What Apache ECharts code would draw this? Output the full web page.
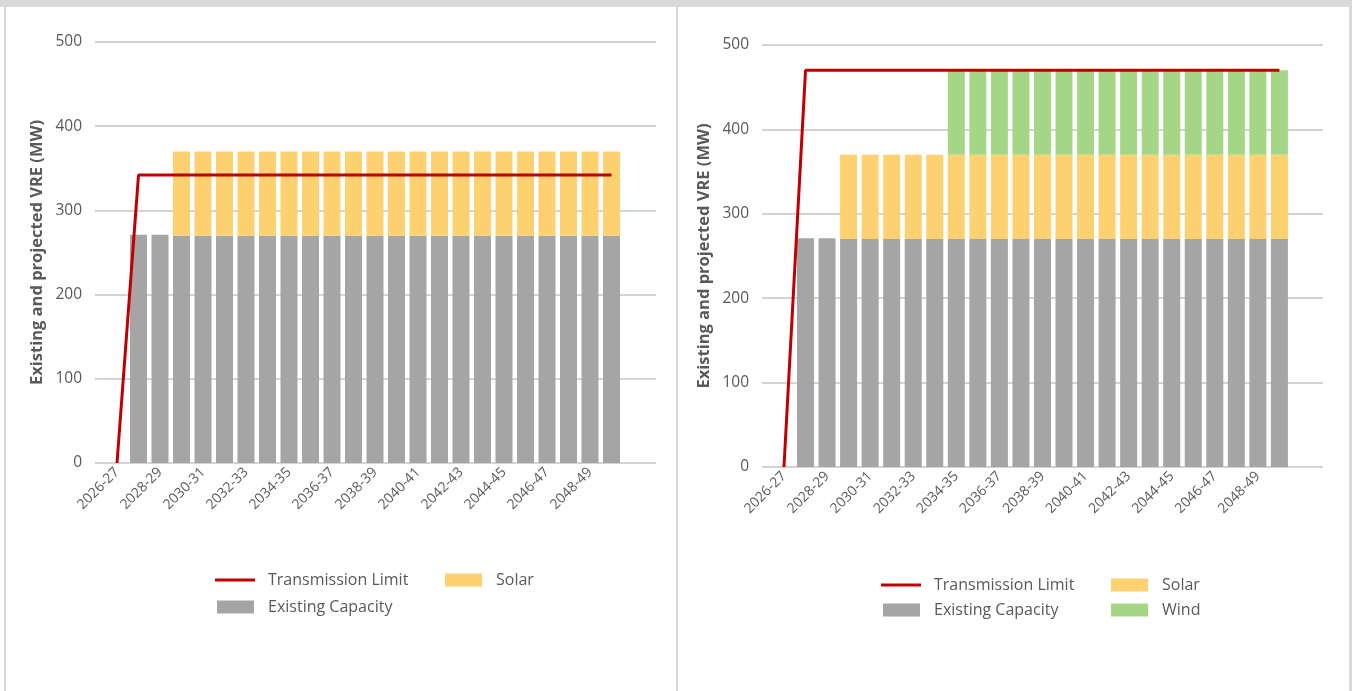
<!DOCTYPE html>
<html>
<head>
<meta charset="utf-8">
<title>Existing and projected VRE</title>
<script src="https://cdn.jsdelivr.net/npm/echarts@6/dist/echarts.min.js"></script>
<style>
  html, body { margin: 0; padding: 0; background: #fff; }
  #chart { width: 1352px; height: 691px; }
</style>
</head>
<body>
<div id="chart"></div>
<script>
// Financial years on the category axis
const years = [
  '2026-27', '2027-28', '2028-29', '2029-30', '2030-31', '2031-32',
  '2032-33', '2033-34', '2034-35', '2035-36', '2036-37', '2037-38',
  '2038-39', '2039-40', '2040-41', '2041-42', '2042-43', '2043-44',
  '2044-45', '2045-46', '2046-47', '2047-48', '2048-49', '2049-50'
];

// Left panel (MW)
const existingLeft = [null, 271, 271, 270, 270, 270, 270, 270, 270, 270, 270, 270,
                      270, 270, 270, 270, 270, 270, 270, 270, 270, 270, 270, 270];
const solarLeft    = [null, null, null, 100, 100, 100, 100, 100, 100, 100, 100, 100,
                      100, 100, 100, 100, 100, 100, 100, 100, 100, 100, 100, 100];
const limitLeft    = [0, 342, 342, 342, 342, 342, 342, 342, 342, 342, 342, 342,
                      342, 342, 342, 342, 342, 342, 342, 342, 342, 342, 342, 342];

// Right panel (MW)
const existingRight = [null, 271, 271, 270, 270, 270, 270, 270, 270, 270, 270, 270,
                       270, 270, 270, 270, 270, 270, 270, 270, 270, 270, 270, 270];
const solarRight    = [null, null, null, 100, 100, 100, 100, 100, 100, 100, 100, 100,
                       100, 100, 100, 100, 100, 100, 100, 100, 100, 100, 100, 100];
const windRight     = [null, null, null, null, null, null, null, null, 100, 100, 100, 100,
                       100, 100, 100, 100, 100, 100, 100, 100, 100, 100, 100, 100];
const limitRight    = [0, 470, 470, 470, 470, 470, 470, 470, 470, 470, 470, 470,
                       470, 470, 470, 470, 470, 470, 470, 470, 470, 470, 470, 470];

// Value axis ticks
const yMin = 0, yMax = 500, yStep = 100;

const FONT = '"Open Sans", "Noto Sans", sans-serif';
const TEXT = '#595959';
const C_EXIST = '#a5a5a5', C_SOLAR = '#fdd16f', C_WIND = '#a4d686', C_LIMIT = '#c00000';

const chart = echarts.init(document.getElementById('chart'), null, { renderer: 'canvas' });

// Each panel: a background grid carrying the value axis + gridlines,
// and a narrower data grid whose category bands hold the bars.
const panels = [
  { bg: { left: 95, width: 561, top: 42, height: 421 },
    data: { left: 106.25, width: 516, top: 42, height: 421 } },
  { bg: { left: 762, width: 561, top: 45, height: 422 },
    data: { left: 773.2, width: 517, top: 45, height: 422 } }
];

const grids = [], xAxes = [], yAxes = [];
panels.forEach((p, i) => {
  grids.push(p.bg, p.data);
  // background grid axes
  xAxes.push({ gridIndex: 2 * i, type: 'value', min: 0, max: 1, show: false });
  yAxes.push({
    gridIndex: 2 * i, type: 'value', min: yMin, max: yMax, interval: yStep,
    name: 'Existing and projected VRE (MW)', nameLocation: 'middle', nameRotate: 90,
    nameGap: 49,
    nameTextStyle: { fontFamily: FONT, fontSize: 16.5, fontWeight: 'bold', color: TEXT },
    axisLine: { show: false }, axisTick: { show: false },
    axisLabel: { fontFamily: FONT, fontSize: 15.5, color: TEXT, margin: 13 },
    splitLine: { lineStyle: { color: '#c4c4c4', width: 1.6 } }
  });
  // data grid axes
  xAxes.push({
    gridIndex: 2 * i + 1, type: 'category', data: years, boundaryGap: true,
    axisLine: { show: false }, axisTick: { show: false },
    axisLabel: {
      interval: 1, rotate: 45, fontFamily: FONT, fontSize: 14, color: TEXT, margin: 7
    }
  });
  yAxes.push({
    gridIndex: 2 * i + 1, type: 'value', min: yMin, max: yMax, interval: yStep, show: false,
    splitLine: { show: false }
  });
});

function bar(name, data, color, axis, stack) {
  return {
    name, type: 'bar', stack, data, xAxisIndex: axis, yAxisIndex: axis,
    barWidth: 17, itemStyle: { color }, emphasis: { disabled: true }, z: 2
  };
}
function limitLine(data, axis) {
  return {
    name: 'Transmission Limit', type: 'line', data, xAxisIndex: axis, yAxisIndex: axis,
    showSymbol: false, symbol: 'none', itemStyle: { color: C_LIMIT },
    lineStyle: { color: C_LIMIT, width: 3 }, emphasis: { disabled: true }, z: 5
  };
}

const series = [
  bar('Existing Capacity', existingLeft, C_EXIST, 1, 'left'),
  bar('Solar', solarLeft, C_SOLAR, 1, 'left'),
  limitLine(limitLeft, 1),
  bar('Existing Capacity', existingRight, C_EXIST, 3, 'right'),
  bar('Solar', solarRight, C_SOLAR, 3, 'right'),
  bar('Wind', windRight, C_WIND, 3, 'right'),
  limitLine(limitRight, 3)
];

// One legend entry per component so each can sit in its own slot
function legendItem(name, left, cy, isLine) {
  return {
    left, top: cy - 11, padding: 0, orient: 'horizontal',
    data: [{ name, icon: 'rect' }],
    itemWidth: isLine ? 40 : 37, itemHeight: isLine ? 3 : 13, selectedMode: false,
    textStyle: { fontFamily: FONT, fontSize: 16, color: TEXT, padding: [0, 0, 0, isLine ? 8 : 9],
                 height: 22, lineHeight: 22 }
  };
}
const legends = [
  legendItem('Transmission Limit', 215, 580, true),
  legendItem('Solar', 445, 580, false),
  legendItem('Existing Capacity', 217, 607, false),
  legendItem('Transmission Limit', 881, 585, true),
  legendItem('Solar', 1111, 585, false),
  legendItem('Existing Capacity', 883, 610, false),
  legendItem('Wind', 1111, 610, false)
];

chart.setOption({
  animation: false,
  backgroundColor: '#ffffff',
  grid: grids,
  xAxis: xAxes,
  yAxis: yAxes,
  legend: legends,
  series,
  graphic: [
    { type: 'rect', shape: { x: 0, y: 0, width: 1352, height: 7 }, style: { fill: '#d9d9d9' }, silent: true },
    { type: 'rect', shape: { x: 4, y: 7, width: 2, height: 684 }, style: { fill: '#d9d9d9' }, silent: true },
    { type: 'rect', shape: { x: 676, y: 7, width: 2, height: 684 }, style: { fill: '#d9d9d9' }, silent: true },
    { type: 'rect', shape: { x: 1349, y: 7, width: 3, height: 684 }, style: { fill: '#d9d9d9' }, silent: true }
  ]
});
</script>
</body>
</html>
